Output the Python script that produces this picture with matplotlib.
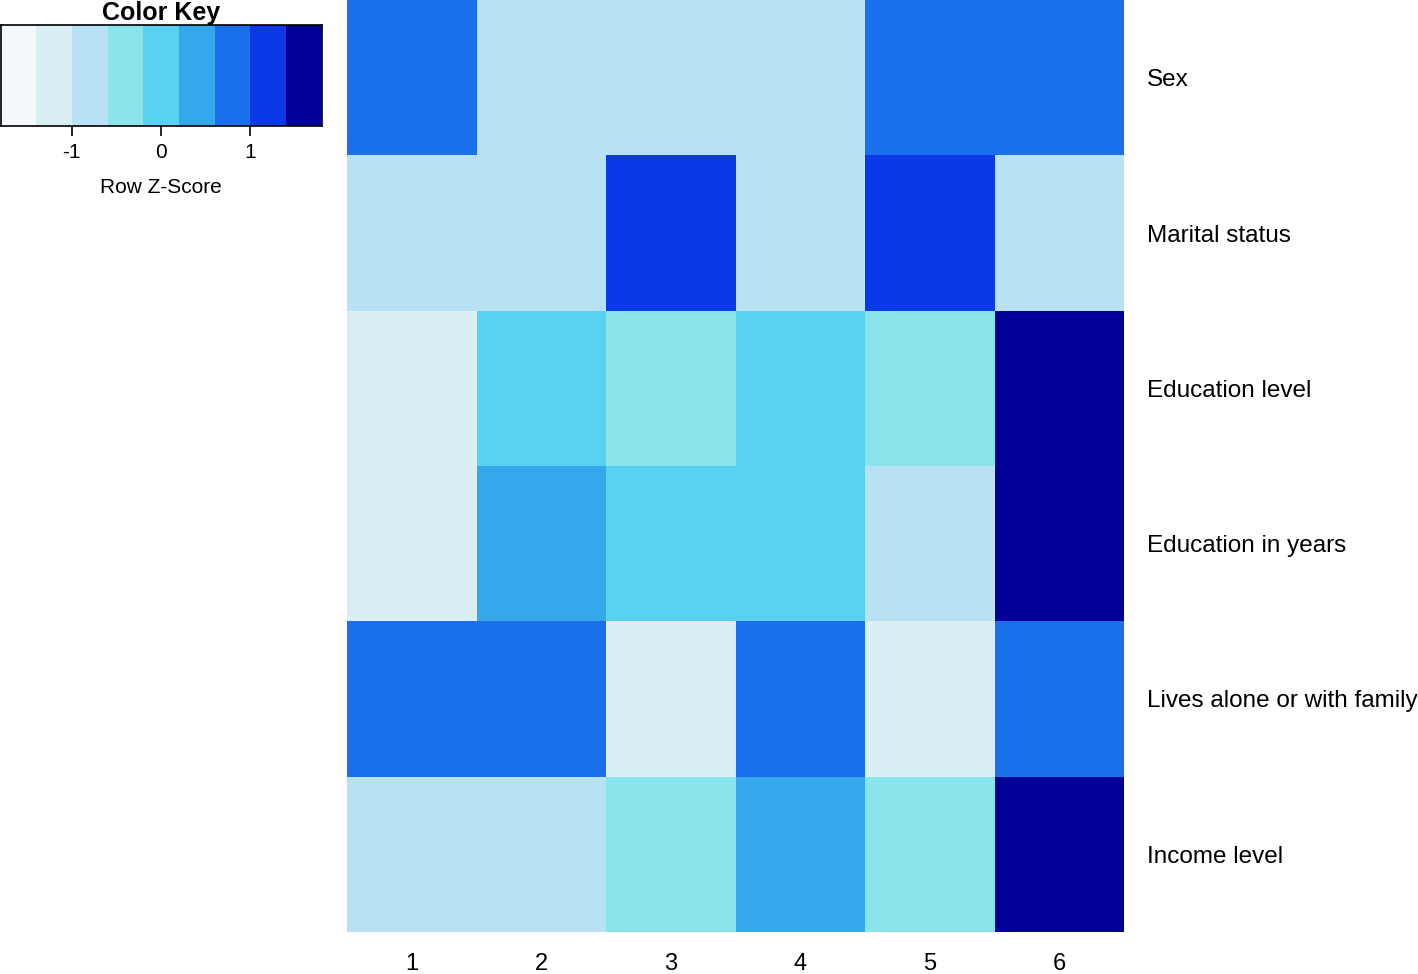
import numpy as np
import matplotlib
matplotlib.use("Agg")
import matplotlib.pyplot as plt
from matplotlib.colors import ListedColormap, BoundaryNorm

plt.rcParams["font.family"] = ["Liberation Sans", "DejaVu Sans"]

rows = ["Sex", "Marital status", "Education level", "Education in years",
        "Lives alone or with family", "Income level"]
cols = ["1", "2", "3", "4", "5", "6"]
# row z-scores (bin centres of the colour key)
z = [
    [1.0, -0.8, -0.8, -0.8, 1.0, 1.0],
    [-0.8, -0.8, 1.2, -0.8, 1.2, -0.8],
    [-1.2, 0.0, -0.4, 0.0, -0.4, 1.6],
    [-1.2, 0.4, 0.0, 0.0, -0.8, 1.6],
    [1.0, 1.0, -1.2, 1.0, -1.2, 1.0],
    [-0.8, -0.8, -0.4, 0.4, -0.4, 1.6],
]
key_colors = ["#F4FAFC", "#DAEFF4", "#B8E2F4", "#8AE4EC", "#5AD0F3",
              "#35A8EC", "#1A6FEA", "#0A3AE8", "#000099"]
bounds = np.linspace(-1.8, 1.8, 10)

cmap = ListedColormap(key_colors)
norm = BoundaryNorm(bounds, cmap.N)

W, H = 1418, 974
fig = plt.figure(figsize=(W / 100, H / 100), dpi=100)

# heatmap
ax = fig.add_axes([347 / W, 1 - 932 / H, (1124 - 347) / W, 932 / H])
data = np.array(z)
ax.pcolormesh(np.arange(len(cols) + 1), np.arange(len(rows) + 1), data,
              cmap=cmap, norm=norm)
ax.set_xlim(0, len(cols))
ax.set_ylim(len(rows), 0)
for s in ax.spines.values():
    s.set_visible(False)
ax.set_xticks(np.arange(len(cols)) + 0.5)
ax.set_xticklabels(cols, fontsize=17)
ax.tick_params(axis="x", length=0, pad=15)
ax.yaxis.tick_right()
ax.set_yticks(np.arange(len(rows)) + 0.5)
ax.set_yticklabels(rows, fontsize=17.5, ha="left")
ax.tick_params(axis="y", length=0, pad=16.5)

# colour key
kax = fig.add_axes([0.5 / W, 1 - 126 / H, 321 / W, 101 / H])
kax.pcolormesh(bounds, [0, 1], (bounds[:-1] + 0.2).reshape(1, -1),
               cmap=cmap, norm=norm)
kax.set_xlim(bounds[0], bounds[-1])
kax.set_ylim(0, 1)
kax.set_yticks([])
kax.set_xticks([-1, 0, 1])
kax.set_xticklabels(["-1", "0", "1"], fontsize=15)
kax.tick_params(axis="x", length=7, width=1.2, pad=5)
for s in kax.spines.values():
    s.set_linewidth(1.2)
kax.set_xlabel("Row Z-Score", fontsize=15, labelpad=12)
kax.set_title("Color Key", fontsize=18, fontweight="bold", pad=-1)

fig.savefig("out.png", dpi=100)
